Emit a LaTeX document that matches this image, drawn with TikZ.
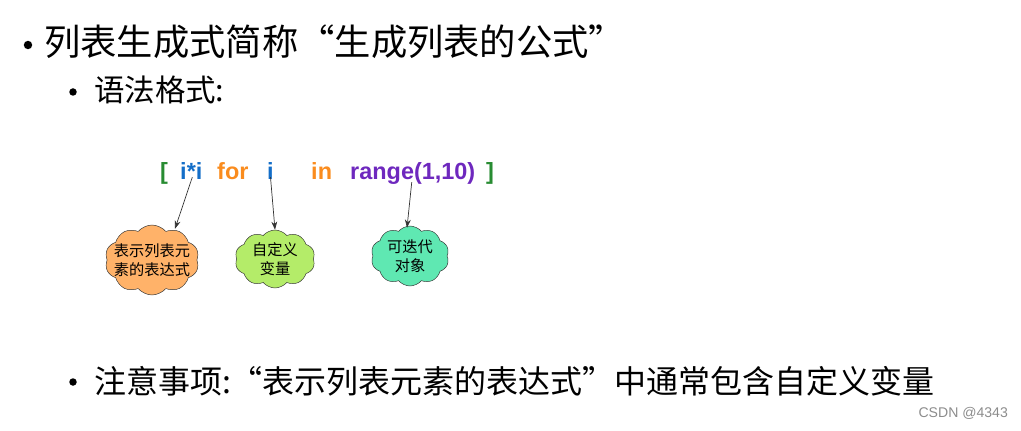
\documentclass[tikz,border=0pt]{standalone}
\usepackage{fontspec}
\setmainfont{Noto Sans CJK SC}
\newfontfamily\codefont{Liberation Sans}
\usetikzlibrary{shapes, arrows, calc, positioning, arrows.meta}
\definecolor{xGreen}{RGB}{40,140,50}
\definecolor{xBlue}{RGB}{20,110,200}
\definecolor{xOrange}{RGB}{250,140,30}
\definecolor{xPurple}{RGB}{110,40,190}
\definecolor{xCloudOrange}{RGB}{255,178,105}
\definecolor{xCloudGreen}{RGB}{180,236,105}
\definecolor{xCloudTeal}{RGB}{95,232,178}

\tikzset{
  code/.style={inner sep=0pt, anchor=base west, font=\codefont\bfseries\fontsize{20}{20}\selectfont},
  bubble/.style={cloud, cloud puffs=10, cloud puff arc=100, draw=black!80, thin, aspect=1.5,
    inner sep=0pt, align=center, font=\fontsize{13}{16}\selectfont},
  point/.style={-{Stealth[length=7pt,width=5pt]}, semithick, black!80}
}

\begin{document}
\begin{tikzpicture}[x=0.03cm,y=-0.03cm]
    \useasboundingbox (0,0) rectangle (1021,431);

    % bullets
    \fill (28,45) circle (3.6pt);
    \node[anchor=west, font=\fontsize{31}{31}\selectfont] (title) at (40,42) {列表生成式简称“生成列表的公式”};
    \fill (73,92) circle (3.2pt);
    \node[anchor=west, font=\fontsize{26}{26}\selectfont] (syntax) at (90,90) {语法格式:};

    % the expression
    \node[code, text=xGreen] (lb) at (160,180) {[};
    \node[code, text=xBlue] (expr) at (180,180) {i*i};
    \node[code, text=xOrange] (kfor) at (217,180) {for};
    \node[code, text=xBlue] (var) at (267,180) {i};
    \node[code, text=xOrange] (kin) at (311,180) {in};
    \node[code, text=xPurple] (iter) at (350,180) {range(1,10)};
    \node[code, text=xGreen] (rb) at (486,180) {]};

    % clouds
    \node[bubble, fill=xCloudOrange, inner sep=-7pt, minimum width=94*0.03cm, minimum height=70*0.03cm] (cexpr) at (152,260) {表示列表元\\素的表达式};
    \node[bubble, fill=xCloudGreen, minimum width=80*0.03cm, minimum height=58*0.03cm] (cvar) at (275,259) {自定义\\变量};
    \node[bubble, fill=xCloudTeal, minimum width=78*0.03cm, minimum height=60*0.03cm] (citer) at (410,256) {可迭代\\对象};

    \draw[point] ($(expr.south)+(1,-3)$) -- ($(cexpr.north)+(23,4)$);
    \draw[point] ($(var.south)+(0,-3)$) -- (cvar.north);
    \draw[point] ($(iter.south)+(-1,-3)$) -- ($(citer.north)+(-3,2)$);

    \fill (73,382) circle (3.2pt);
    \node[anchor=west, font=\fontsize{27.3}{27.3}\selectfont] (note) at (90,381) {注意事项:“表示列表元素的表达式”中通常包含自定义变量};

    \node[anchor=east, text=black!45, font=\codefont\fontsize{12}{12}\selectfont] (mark) at (1012,413) {CSDN @4343};
\end{tikzpicture}
\end{document}
